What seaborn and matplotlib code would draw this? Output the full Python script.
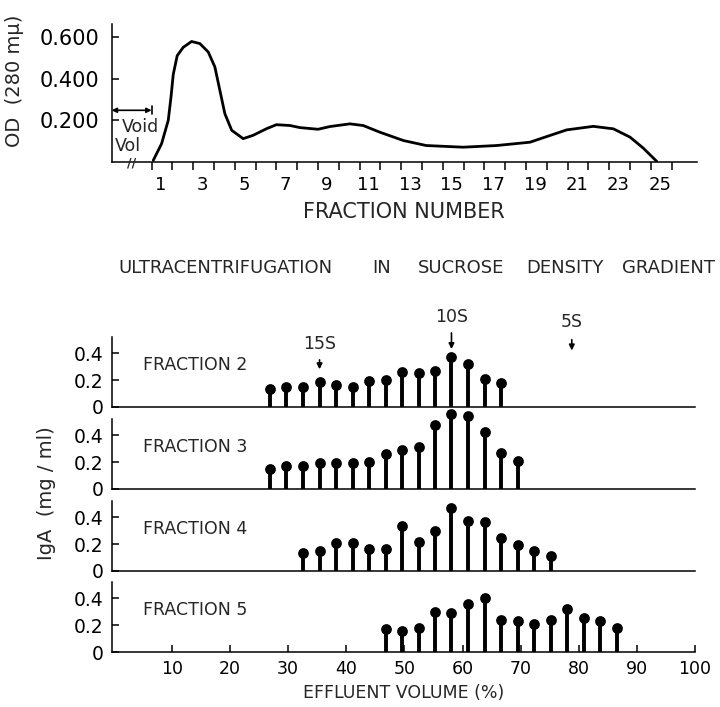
"""
Gel filtration OD profile (top) and IgA distribution after sucrose
density-gradient ultracentrifugation of fractions 2-5 (bottom).
"""
import numpy as np
import pandas as pd
import matplotlib
matplotlib.use("Agg")
import matplotlib.pyplot as plt
import matplotlib.transforms as mtrans
import seaborn as sns

# 1. Data
# OD (280 mu) elution trace
od_fraction = [1.08, 1.48, 1.8, 1.93, 2.04, 2.23, 2.52, 2.92, 3.32, 3.72, 4.04,
               4.28, 4.52, 4.85, 5.4, 5.88, 6.53, 7.0, 7.65, 8.13, 9.0, 9.57,
               10.53, 11.17, 11.97, 13.1, 14.2, 15.98, 17.58, 19.19, 19.99, 20.95,
               22.23, 23.2, 24.0, 24.64, 25.28]
od_value = [0.008, 0.088, 0.2, 0.31, 0.42, 0.51, 0.55, 0.578, 0.568, 0.528, 0.456,
            0.344, 0.232, 0.152, 0.112, 0.128, 0.16, 0.179, 0.175, 0.165, 0.157, 0.17,
            0.183, 0.175, 0.143, 0.103, 0.079, 0.071, 0.079, 0.095, 0.122, 0.154,
            0.171, 0.159, 0.119, 0.066, 0.003]

top_ticks = list(range(1, 27))
top_ticklabels = [str(t) if t % 2 == 1 else "" for t in top_ticks]
od_ticks = [0.2, 0.4, 0.6]
od_ticklabels = ["0.200", "0.400", "0.600"]

# gradient fractions, effluent volume (%)
effluent = [26.9, 29.7, 32.6, 35.4, 38.3, 41.1, 43.9, 46.8, 49.6, 52.5, 55.3,
            58.1, 61.0, 63.8, 66.7, 69.5, 72.3, 75.2, 78.0, 80.9, 83.7, 86.6]

iga_frac2 = [0.135, 0.15, 0.15, 0.185, 0.16, 0.15, 0.19, 0.2, 0.26, 0.255, 0.27,
             0.37, 0.32, 0.21, 0.175]
iga_frac3 = [0.145, 0.17, 0.17, 0.19, 0.195, 0.19, 0.2, 0.26, 0.29, 0.315, 0.475,
             0.56, 0.545, 0.425, 0.27, 0.21]
iga_frac4 = [0.135, 0.145, 0.205, 0.21, 0.165, 0.165, 0.335, 0.215, 0.295, 0.47,
             0.375, 0.365, 0.245, 0.195, 0.15, 0.115]
iga_frac5 = [0.17, 0.155, 0.18, 0.3, 0.29, 0.36, 0.4, 0.235, 0.23, 0.205, 0.235,
             0.32, 0.255, 0.23, 0.18]

panel_names = ["FRACTION 2", "FRACTION 3", "FRACTION 4", "FRACTION 5"]
panel_x = [effluent[0:15], effluent[0:16], effluent[2:18], effluent[7:22]]
panel_y = [iga_frac2, iga_frac3, iga_frac4, iga_frac5]

markers_s = ["15S", "10S", "5S"]
markers_x = [35.4, 58.1, 78.8]

eff_ticks = [10, 20, 30, 40, 50, 60, 70, 80, 90, 100]
iga_ticks = [0, 0.2, 0.4]
iga_ticklabels = ["0", "0.2", "0.4"]

# 2. Style
sns.set_style("ticks")
plt.rcParams["font.family"] = ["DejaVu Sans"]
plt.rcParams["axes.linewidth"] = 1.1
plt.rcParams["axes.edgecolor"] = "black"

fig = plt.figure(figsize=(7.2, 7.07), dpi=100)

# 3. Top: OD profile
ax = fig.add_axes([0.1551, 1 - 162 / 707, 0.8125, 137.6 / 707])
od_df = pd.DataFrame({"fraction": od_fraction, "od": od_value})
sns.lineplot(data=od_df, x="fraction", y="od", sort=False, estimator=None,
             color="black", lw=2.0, ax=ax)
ax.set_xlim(-0.92, 27.2)
ax.set_ylim(0, 0.66)
ax.set_xticks(top_ticks)
ax.set_xticklabels(top_ticklabels, fontsize=13)
ax.set_yticks(od_ticks)
ax.set_yticklabels(od_ticklabels, fontsize=15)
ax.tick_params(axis="x", direction="out", length=6, width=1.1, colors="black", pad=4)
ax.tick_params(axis="y", direction="in", length=5, width=1.1, colors="black", pad=9)
# hand lettering sits a little right of each tick
shift = mtrans.ScaledTranslation(0.09, 0, fig.dpi_scale_trans)
for lab in ax.get_xticklabels():
    lab.set_transform(lab.get_transform() + shift)
ax.set_xlabel("FRACTION NUMBER", fontsize=15, labelpad=6)
ax.set_ylabel("")
sns.despine(ax=ax)

# void volume arrow + axis break
ax.annotate("", xy=(-0.92, 0.248), xytext=(1.0, 0.248),
            arrowprops=dict(arrowstyle="<|-|>", color="black", lw=1.2,
                            mutation_scale=7, shrinkA=0, shrinkB=0),
            annotation_clip=False)
ax.plot([1.0, 1.0], [0.228, 0.268], color="black", lw=1.2, clip_on=False)
ax.text(-0.45, 0.17, "Void", fontsize=12.5, ha="left", va="center")
ax.text(-0.78, 0.075, "Vol", fontsize=12.5, ha="left", va="center")
ax.text(0.05, -0.005, "//", fontsize=9, ha="center", va="center",
        fontweight="bold")

fig.text(0.02, 0.885, "OD  (280 m\u03bc)", rotation=90, fontsize=14,
         ha="center", va="center")

# title of the lower block
title_words = ["ULTRACENTRIFUGATION", "IN", "SUCROSE", "DENSITY", "GRADIENT"]
title_left = [118, 372, 418, 526, 622]
for w, xl in zip(title_words, title_left):
    fig.text(xl / 720, 1 - 268 / 707, w, fontsize=13, ha="left", va="center")

# 4. Bottom: IgA stem panels
baselines = [407, 489, 571, 652]
axes = []
for i, (name, xs, ys) in enumerate(zip(panel_names, panel_x, panel_y)):
    a = fig.add_axes([0.1556, 1 - baselines[i] / 707, 0.8097, 70 / 707])
    df = pd.DataFrame({"volume": xs, "iga": ys})
    a.vlines(df["volume"], 0, df["iga"], color="black", lw=2.8, clip_on=False)
    sns.scatterplot(data=df, x="volume", y="iga", color="black", s=60,
                    edgecolor="black", linewidth=0, clip_on=False, zorder=3, ax=a)
    a.set_xlim(-0.3, 100)
    a.set_ylim(0, 0.52)
    a.set_yticks(iga_ticks)
    a.set_yticklabels(iga_ticklabels, fontsize=13.5)
    a.tick_params(axis="y", direction="in", length=5, width=1.1, colors="black", pad=6)
    a.set_xlabel("")
    a.set_ylabel("")
    a.text(5.0, 0.31, name, fontsize=12.5, ha="left", va="center")
    sns.despine(ax=a)
    if i < 3:
        a.set_xticks([])
    else:
        a.set_xticks(eff_ticks)
        a.set_xticklabels([str(t) for t in eff_ticks], fontsize=12.5)
        a.tick_params(axis="x", direction="in", length=5, width=1.1,
                      colors="black", pad=6)
        a.set_xlabel("EFFLUENT VOLUME (%)", fontsize=12.5, labelpad=4)
    axes.append(a)

# sedimentation markers over fraction 2
a0 = axes[0]
marker_tip = [0.28, 0.43, 0.42]
marker_tail = [0.35, 0.55, 0.50]
marker_text = [0.47, 0.67, 0.63]
for lab, xm, tip, tail, ty in zip(markers_s, markers_x, marker_tip, marker_tail, marker_text):
    a0.annotate("", xy=(xm, tip), xytext=(xm, tail),
                arrowprops=dict(arrowstyle="-|>", color="black", lw=1.2,
                                mutation_scale=8, shrinkA=0, shrinkB=0),
                annotation_clip=False)
    a0.text(xm, ty, lab, fontsize=12.5, ha="center", va="center")

fig.text(47 / 720, 1 - 493 / 707, "IgA  (mg / ml)", rotation=90, fontsize=14,
         ha="center", va="center")

fig.savefig("out.png", dpi=100)
